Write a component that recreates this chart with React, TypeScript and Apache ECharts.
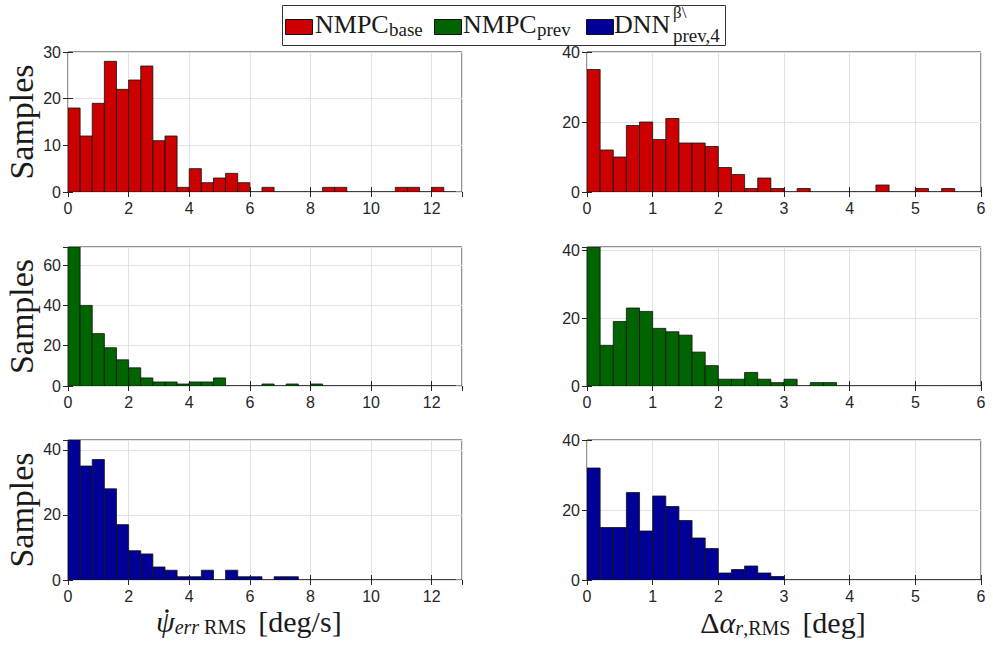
import React, { useEffect, useRef } from "react";
import * as echarts from "echarts";

// ---------- data ----------
const seriesNames = ["NMPC_base", "NMPC_prev", "DNN_prev,4"];
const seriesColors = ["#cc0000", "#006400", "#000096"];

const psiBinWidth = 0.4;
const alphaBinWidth = 0.2;

// psi-dot err RMS histograms (bins of 0.4 from 0)
const psiBase = [18, 12, 19, 28, 22, 24, 27, 11, 12, 1, 5, 2, 3, 4, 2, 0, 1, 0, 0, 0, 0, 1, 1, 0, 0, 0, 0, 1, 1, 0, 1, 0];
const psiPrev = [69, 40, 26, 19, 13, 9, 4, 2, 2, 1, 2, 2, 4, 0, 0, 0, 1, 0, 1, 0, 1, 0, 0, 0, 0, 0, 0, 0, 0, 0, 0, 0];
const psiDnn = [43, 35, 37, 28, 17, 9, 8, 4, 3, 1, 1, 3, 0, 3, 1, 1, 0, 1, 1, 0, 0, 0, 0, 0, 0, 0, 0, 0, 0, 0, 0, 0];

// delta alpha_r RMS histograms (bins of 0.2 from 0)
const alphaBase = [35, 12, 10, 19, 20, 15, 21, 14, 14, 13, 7, 5, 1, 4, 1, 0, 1, 0, 0, 0, 0, 0, 2, 0, 0, 1, 0, 1, 0, 0];
const alphaPrev = [41, 12, 19, 23, 22, 17, 16, 15, 10, 6, 2, 2, 4, 2, 1, 2, 0, 1, 1, 0, 0, 0, 0, 0, 0, 0, 0, 0, 0, 0];
const alphaDnn = [32, 15, 15, 25, 14, 24, 21, 17, 12, 9, 2, 3, 4, 2, 1, 0, 0, 0, 0, 0, 0, 0, 0, 0, 0, 0, 0, 0, 0, 0];

const psiXMax = 13;
const psiXInterval = 2;
const alphaXMax = 6;
const alphaXInterval = 1;

const yMaxLeft = [30, 69, 43];
const yMaxRight = [40, 41, 40];
const yIntervalLeft = [10, 20, 20];
const yIntervalRight = [20, 20, 20];

// ---------- layout ----------
const colLefts = [68, 587];
const gridWidth = 394;
const rowTops = [52, 247, 440];
const rowHeights = [140, 139, 140];

const SERIF = "Liberation Serif";
const SANS = "Liberation Sans";
const AX = "#262626";
const TXT = "#1a1a1a";

function toBins(counts: number[], w: number) {
  return counts.map((c, i) => [+(i * w).toFixed(4), +((i + 1) * w).toFixed(4), c]);
}

function buildOption() {
  const grid: any[] = [];
  const xAxis: any[] = [];
  const yAxis: any[] = [];
  const series: any[] = [];
  const rows = [
    [psiBase, alphaBase],
    [psiPrev, alphaPrev],
    [psiDnn, alphaDnn],
  ];
  rows.forEach((row, r) => {
    row.forEach((counts, c) => {
      const gi = grid.length;
      const isPsi = c === 0;
      const xMax = isPsi ? psiXMax : alphaXMax;
      const xInt = isPsi ? psiXInterval : alphaXInterval;
      const yMax = isPsi ? yMaxLeft[r] : yMaxRight[r];
      const yInt = isPsi ? yIntervalLeft[r] : yIntervalRight[r];
      grid.push({
        left: colLefts[c],
        top: rowTops[r],
        width: gridWidth,
        height: rowHeights[r],
        show: true,
        borderColor: AX,
        borderWidth: 1,
        backgroundColor: "#ffffff",
        containLabel: false,
      });
      const tick = { inside: true, length: 5, lineStyle: { color: AX, width: 1 } };
      xAxis.push({
        gridIndex: gi,
        type: "value",
        position: "bottom",
        min: 0,
        max: xMax,
        interval: xInt,
        axisLine: { show: false },
        axisTick: tick,
        axisLabel: {
          show: true,
          margin: 8,
          fontFamily: SANS,
          fontSize: 16,
          color: AX,
          showMaxLabel: !isPsi,
          showMinLabel: true,
        },
        splitLine: { show: true, lineStyle: { color: "#e2e2e2", width: 1 } },
      });
      xAxis.push({
        gridIndex: gi,
        type: "value",
        position: "top",
        min: 0,
        max: xMax,
        interval: xInt,
        axisLine: { show: false },
        axisTick: tick,
        axisLabel: { show: false },
        splitLine: { show: false },
      });
      yAxis.push({
        gridIndex: gi,
        type: "value",
        position: "left",
        min: 0,
        max: yMax,
        interval: yInt,
        axisLine: { show: false },
        axisTick: tick,
        axisLabel: {
          show: true,
          margin: 7,
          fontFamily: SANS,
          fontSize: 16,
          color: AX,
          showMaxLabel: yMax % yInt === 0,
        },
        splitLine: { show: true, lineStyle: { color: "#e2e2e2", width: 1 } },
      });
      yAxis.push({
        gridIndex: gi,
        type: "value",
        position: "right",
        min: 0,
        max: yMax,
        interval: yInt,
        axisLine: { show: false },
        axisTick: tick,
        axisLabel: { show: false },
        splitLine: { show: false },
      });
      const color = seriesColors[r];
      series.push({
        type: "custom",
        name: seriesNames[r],
        xAxisIndex: 2 * gi,
        yAxisIndex: 2 * gi,
        clip: true,
        data: toBins(counts, isPsi ? psiBinWidth : alphaBinWidth),
        encode: { x: [0, 1], y: 2 },
        renderItem: (params: any, api: any) => {
          const p0 = api.coord([api.value(0), api.value(2)]);
          const p1 = api.coord([api.value(1), 0]);
          return {
            type: "rect",
            shape: { x: p0[0], y: p0[1], width: p1[0] - p0[0], height: p1[1] - p0[1] },
            style: { fill: color, stroke: "#111111", lineWidth: 0.8 },
          };
        },
      });
    });
  });

  const graphic: any[] = [];
  // Samples labels
  rowTops.forEach((t, r) => {
    graphic.push({
      type: "text",
      x: 21,
      y: t + rowHeights[r] / 2,
      rotation: Math.PI / 2,
      style: {
        text: "Samples",
        fontFamily: SERIF,
        fontSize: 34,
        fill: TXT,
        align: "center",
        verticalAlign: "middle",
      },
    });
  });

  const main = 30;
  const sub = 20;
  const titleRich = {
    m: { fontFamily: SERIF, fontSize: main, lineHeight: 30, fill: TXT },
    mp: { fontFamily: SERIF, fontSize: main, lineHeight: 30, fill: TXT, padding: [0, 0, 0, 12] },
    mi: { fontFamily: SERIF, fontSize: main, lineHeight: 30, fontStyle: "italic", fill: TXT },
    si: { fontFamily: SERIF, fontSize: sub, lineHeight: 18, fontStyle: "italic", padding: [11, 0, 0, 0], verticalAlign: "top", fill: TXT },
    s: { fontFamily: SERIF, fontSize: sub, lineHeight: 18, padding: [11, 0, 0, 0], verticalAlign: "top", fill: TXT },
  };
  graphic.push({
    type: "text",
    x: 156,
    y: 621,
    style: {
      text: "{mi|\u03C8}{si|err}{s| RMS}{mp|[deg/s]}",
      rich: titleRich,
      align: "left",
      verticalAlign: "middle",
    },
  });
  // dot over psi (time derivative)
  graphic.push({
    type: "circle",
    shape: { cx: 167, cy: 611, r: 1.8 },
    style: { fill: TXT },
  });
  graphic.push({
    type: "text",
    x: 783,
    y: 622,
    style: {
      text: "{m|\u0394}{mi|\u03B1}{si|r}{s|,RMS}{mp|[deg]}",
      rich: titleRich,
      align: "center",
      verticalAlign: "middle",
    },
  });

  // legend
  const LF = 26;
  const LS = 19;
  const lt = (text: string, x: number, baseline: number, size: number) => ({
    type: "text",
    x,
    y: baseline - 0.34 * size,
    z: 20,
    style: { text, fontFamily: SERIF, fontSize: size, fill: TXT, align: "left", verticalAlign: "middle" },
  });
  graphic.push({
    type: "rect",
    z: 10,
    shape: { x: 282.5, y: 5.5, width: 443, height: 40 },
    style: { fill: "#ffffff", stroke: "#333333", lineWidth: 1 },
  });
  const swatchX = [285, 434, 586];
  swatchX.forEach((sx, i) => {
    graphic.push({
      type: "rect",
      z: 20,
      shape: { x: sx + 0.5, y: 19.5, width: 27, height: 15 },
      style: { fill: seriesColors[i], stroke: "#111111", lineWidth: 1 },
    });
  });
  graphic.push(lt("NMPC", 315, 33, LF));
  graphic.push(lt("base", 389, 36, LS));
  graphic.push(lt("NMPC", 463, 33, LF));
  graphic.push(lt("prev", 537, 36, LS));
  graphic.push(lt("DNN", 614, 33, LF));
  graphic.push(lt("\u03B2\\", 673, 18, 17));
  graphic.push(lt("prev,4", 673, 42, LS));

  return {
    animation: false,
    backgroundColor: "#ffffff",
    grid,
    xAxis,
    yAxis,
    series,
    graphic,
  };
}

export default function App() {
  const ref = useRef<HTMLDivElement>(null);
  useEffect(() => {
    if (!ref.current) return;
    const chart = echarts.init(ref.current, undefined, { renderer: "svg" });
    chart.setOption(buildOption() as any);
    return () => chart.dispose();
  }, []);
  return (
    <div
      ref={ref}
      style={{ position: "absolute", left: 0, top: 0, width: 993, height: 650, background: "#fff" }}
    />
  );
}
